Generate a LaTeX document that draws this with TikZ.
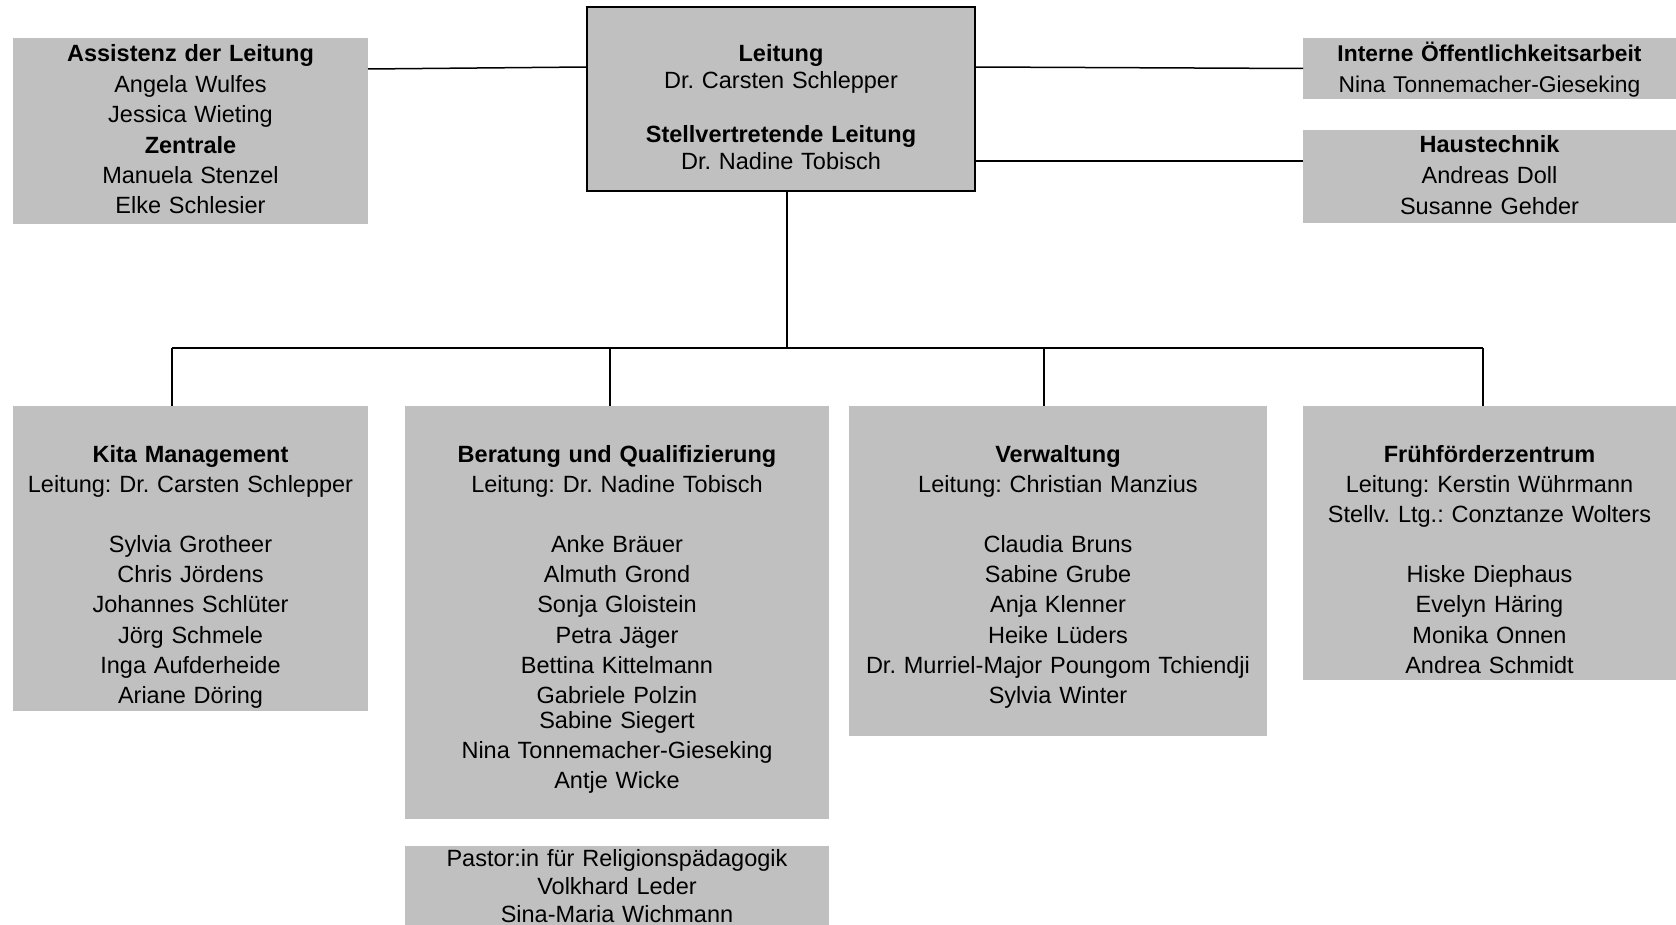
\documentclass[tikz,border=0pt]{standalone}
\usepackage{fontspec}
\setmainfont{Liberation Sans}
\frenchspacing
\definecolor{unitgray}{RGB}{192,192,192}

\begin{document}
\begin{tikzpicture}[
        x=1pt, y=-1pt,
        unit/.style={
            fill=unitgray, anchor=north west,
            inner sep=0pt, outer sep=0pt,
            align=center, text width=#1,
            font=\fontsize{23.5}{30.2}\selectfont,
        },
        unit/.default=373pt,
        link/.style={black, line width=1.5pt},
    ]
    \useasboundingbox (0,0) rectangle (1676,925);

    % top row
    \node[unit=355pt, text height=24pt, text depth=162pt,
        font=\fontsize{23.5}{30.4}\selectfont] (assist) at (13,38)
        {\textbf{Assistenz der Leitung}\\ Angela Wulfes\\ Jessica Wieting\\
         \textbf{Zentrale}\\ Manuela Stenzel\\ Elke Schlesier};
    \node[unit=388pt, draw, line width=1.5pt, text height=55pt, text depth=129pt,
        font=\fontsize{23.5}{27}\selectfont] (leitung) at (587,7)
        {\textbf{Leitung}\\ Dr. Carsten Schlepper\\[27pt]
         \textbf{Stellvertretende Leitung}\\ Dr. Nadine Tobisch};
    \node[unit, text height=24pt, text depth=37pt,
        font=\fontsize{22.8}{31}\selectfont] (interne) at (1303,38)
        {\textbf{Interne Öffentlichkeitsarbeit}\\ Nina Tonnemacher-Gieseking};
    \node[unit, text height=23pt, text depth=70pt,
        font=\fontsize{23.5}{31}\selectfont] (haus) at (1303,130)
        {\textbf{Haustechnik}\\ Andreas Doll\\ Susanne Gehder};

    % departments
    \node[unit=355pt, text height=56pt, text depth=249pt] (kita) at (13,406)
        {\textbf{Kita Management}\\ Leitung: Dr. Carsten Schlepper\\[30pt]
         Sylvia Grotheer\\ Chris Jördens\\ Johannes Schlüter\\ Jörg Schmele\\
         Inga Aufderheide\\ Ariane Döring};
    \node[unit=424pt, text height=56pt, text depth=357pt] (beratung) at (405,406)
        {\textbf{Beratung und Qualifizierung}\\ Leitung: Dr. Nadine Tobisch\\[30pt]
         Anke Bräuer\\ Almuth Grond\\ Sonja Gloistein\\ Petra Jäger\\
         Bettina Kittelmann\\ Gabriele Polzin\\[-5pt] Sabine Siegert\\
         Nina Tonnemacher-Gieseking\\[-1pt] Antje Wicke};
    \node[unit=418pt, text height=56pt, text depth=274pt] (verwaltung) at (849,406)
        {\textbf{Verwaltung}\\ Leitung: Christian Manzius\\[30pt]
         Claudia Bruns\\ Sabine Grube\\ Anja Klenner\\ Heike Lüders\\
         Dr. Murriel-Major Poungom Tchiendji\\ Sylvia Winter};
    \node[unit, text height=56pt, text depth=218pt] (fruehfoerder) at (1303,406)
        {\textbf{Frühförderzentrum}\\ Leitung: Kerstin Wührmann\\
         Stellv. Ltg.: Conztanze Wolters\\[30pt]
         Hiske Diephaus\\ Evelyn Häring\\ Monika Onnen\\ Andrea Schmidt};
    \node[unit=424pt, text height=20pt, text depth=59pt,
        font=\fontsize{23.5}{28}\selectfont] (pastor) at (405,846)
        {Pastor:in für Religionspädagogik\\ Volkhard Leder\\ Sina-Maria Wichmann};

    % lines
    \draw[link] ([yshift=-31pt]assist.north east) -- ([yshift=-60pt]leitung.north west);
    \draw[link] ([yshift=-60pt]leitung.north east) -- (interne.west);
    \draw[link] ([yshift=-154pt]leitung.north east) -- ([yshift=-31pt]haus.north west);

    \coordinate (trunk) at (787,348);
    \coordinate (d1) at (172,348);
    \coordinate (d2) at (610,348);
    \coordinate (d3) at (1044,348);
    \coordinate (d4) at (1483,348);
    \draw[link] (leitung.south -| trunk) -- (trunk);
    \draw[link] (d1) -- (d4);
    \draw[link] (d1) -- (d1 |- kita.north);
    \draw[link] (d2) -- (d2 |- beratung.north);
    \draw[link] (d3) -- (d3 |- verwaltung.north);
    \draw[link] (d4) -- (d4 |- fruehfoerder.north);
\end{tikzpicture}
\end{document}
